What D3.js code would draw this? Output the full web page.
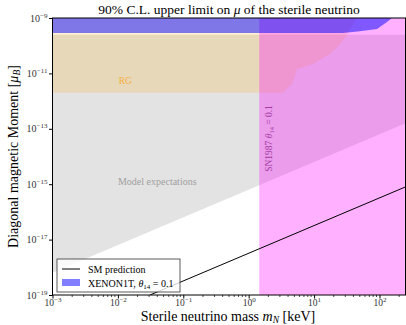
<!DOCTYPE html>
<html>
<head>
<meta charset="utf-8">
<script src="https://cdn.jsdelivr.net/npm/d3@7"></script>
<style>
  body { margin: 0; background: #fff; }
  text { font-family: "Liberation Serif", "DejaVu Serif", serif; }
</style>
</head>
<body>
<script>
// axis ticks
const massTicks = [1e-3, 1e-2, 1e-1, 1, 10, 100];
const momentTicks = [1e-9, 1e-11, 1e-13, 1e-15, 1e-17, 1e-19];

// regions, [mass keV, moment muB]
const modelLower = [[1e-3, 6.3e-19], [250, 1.58e-13]];
const modelTop = 2.5e-10;
const rgBoundary = [[1e-3, 2e-12], [3.3, 2e-12], [4.6, 4.2e-12], [5.5, 1.45e-11], [9.6, 2.2e-11],
                    [17.5, 5e-11], [25, 1.15e-10], [32, 2.6e-10], [38, 5.1e-10], [45, 1e-9]];
const xenonBoundary = [[1e-3, 2.9e-10], [27.6, 2.9e-10], [50, 3.3e-10], [92, 4e-10],
                       [130, 7.2e-10], [155, 1e-9]];
const snMass = [1.45, 250];
const smLine = [[0.031, 1e-19], [250, 8e-16]];

const W = 406, H = 325;
const margin = { top: 18, right: 0.5, bottom: 30, left: 52.5 };
const width = W - margin.left - margin.right;
const height = H - margin.top - margin.bottom;

const x = d3.scaleLog().domain([1e-3, 250]).range([0, width]);
const y = d3.scaleLog().domain([1e-19, 1e-9]).range([height, 0]);

const svg = d3.select("body").append("svg")
    .attr("width", W)
    .attr("height", H);

svg.append("defs").append("clipPath").attr("id", "clip")
    .append("rect").attr("width", width).attr("height", height);

const g = svg.append("g")
    .attr("transform", "translate(" + margin.left + "," + margin.top + ")");

const plot = g.append("g").attr("clip-path", "url(#clip)");

const line = d3.line().x(d => x(d[0])).y(d => y(d[1]));

// model expectations
const modelPoly = modelLower.concat([[250, modelTop], [1e-3, modelTop]]);
plot.append("path")
    .attr("d", line(modelPoly) + "Z")
    .attr("fill", "#808080")
    .attr("fill-opacity", 0.22);

// red giants
const rgPoly = rgBoundary.concat([[1e-3, 1e-9]]);
plot.append("path")
    .attr("d", line(rgPoly) + "Z")
    .attr("fill", "#ffa500")
    .attr("fill-opacity", 0.18);

// SN1987
plot.append("rect")
    .attr("x", x(snMass[0]))
    .attr("y", 0)
    .attr("width", x(snMass[1]) - x(snMass[0]))
    .attr("height", height)
    .attr("fill", "#ff00ff")
    .attr("fill-opacity", 0.31);

// XENON1T
const xePoly = xenonBoundary.concat([[1e-3, 1e-9]]);
plot.append("path")
    .attr("d", line(xePoly) + "Z")
    .attr("fill", "#0000ff")
    .attr("fill-opacity", 0.5);

// SM prediction
plot.append("path")
    .attr("d", line(smLine))
    .attr("fill", "none")
    .attr("stroke", "#000")
    .attr("stroke-width", 1);

// region labels
g.append("text")
    .attr("x", x(0.013)).attr("y", y(4e-12))
    .attr("text-anchor", "middle")
    .attr("font-size", 9.5)
    .attr("fill", "#f4b040")
    .text("RG");

g.append("text")
    .attr("x", x(0.04)).attr("y", y(9.3e-16))
    .attr("text-anchor", "middle")
    .attr("font-size", 10)
    .attr("fill", "#a0a0a0")
    .text("Model expectations");

const snText = g.append("text")
    .attr("transform", "translate(" + (x(snMass[0]) + 13) + "," + y(2.8e-15) + ") rotate(-90)")
    .attr("font-size", 9.5)
    .attr("fill", "#a53ca5");
snText.append("tspan").text("SN1987 ");
snText.append("tspan").attr("font-style", "italic").text("θ");
snText.append("tspan").attr("font-size", 6.5).attr("dy", 2).text("14");
snText.append("tspan").attr("dy", -2).text(" = 0.1");

// axes
function powLabel(sel, v) {
    const e = Math.round(Math.log10(v));
    sel.text("");
    sel.append("tspan").text("10");
    sel.append("tspan").attr("font-size", 7).attr("dy", -4).text(e < 0 ? "\u2212" + (-e) : e);
}

const xAxis = g.append("g")
    .attr("transform", "translate(0," + height + ")")
    .call(d3.axisBottom(x).tickValues(massTicks).tickSize(3.5).tickFormat(""));
xAxis.select(".domain").remove();
xAxis.selectAll("text").remove();
xAxis.selectAll(".tick").append("text")
    .attr("y", 10.5)
    .attr("text-anchor", "middle")
    .attr("font-size", 9.5)
    .attr("fill", "#333")
    .each(function (d) { powLabel(d3.select(this), d); });

const minor = [];
for (let dec = -3; dec <= 2; dec++) {
    for (let k = 2; k <= 9; k++) {
        const v = k * Math.pow(10, dec);
        if (v <= 250) minor.push(v);
    }
}
g.append("g")
    .attr("transform", "translate(0," + height + ")")
    .selectAll("line").data(minor).enter().append("line")
    .attr("x1", d => x(d)).attr("x2", d => x(d))
    .attr("y1", 0).attr("y2", 2)
    .attr("stroke", "#000").attr("stroke-width", 0.7);

const yAxis = g.append("g")
    .call(d3.axisLeft(y).tickValues(momentTicks).tickSize(3.5).tickFormat(""));
yAxis.select(".domain").remove();
yAxis.selectAll(".tick").append("text")
    .attr("x", -5)
    .attr("dy", 3)
    .attr("text-anchor", "end")
    .attr("font-size", 10)
    .attr("fill", "#333")
    .each(function (d) { powLabel(d3.select(this), d); });

g.append("rect")
    .attr("width", width).attr("height", height)
    .attr("fill", "none").attr("stroke", "#000").attr("stroke-width", 1);

// legend
const lg = g.append("g").attr("transform", "translate(4.5," + (height - 36) + ")");
lg.append("rect")
    .attr("width", 123).attr("height", 33)
    .attr("fill", "#fff").attr("fill-opacity", 0.8)
    .attr("stroke", "#333").attr("stroke-width", 0.8);
lg.append("line")
    .attr("x1", 5).attr("x2", 23).attr("y1", 10).attr("y2", 10)
    .attr("stroke", "#000").attr("stroke-width", 1);
lg.append("text")
    .attr("x", 31).attr("y", 13.5)
    .attr("font-size", 10)
    .text("SM prediction");
lg.append("rect")
    .attr("x", 5).attr("y", 20).attr("width", 18).attr("height", 7)
    .attr("fill", "#0000ff").attr("fill-opacity", 0.5);
const xeText = lg.append("text").attr("x", 31).attr("y", 27.5).attr("font-size", 10);
xeText.append("tspan").text("XENON1T, ");
xeText.append("tspan").attr("font-style", "italic").text("θ");
xeText.append("tspan").attr("font-size", 7).attr("dy", 2).text("14");
xeText.append("tspan").attr("dy", -2).text(" = 0.1");

// titles
const title = svg.append("text")
    .attr("x", margin.left + width / 2).attr("y", 14)
    .attr("text-anchor", "middle")
    .attr("font-size", 13.5);
title.append("tspan").text("90% C.L. upper limit on ");
title.append("tspan").attr("font-style", "italic").text("μ");
title.append("tspan").text(" of the sterile neutrino");

const xl = svg.append("text")
    .attr("x", margin.left + width / 2 - 1).attr("y", 321)
    .attr("text-anchor", "middle")
    .attr("font-size", 14);
xl.append("tspan").text("Sterile neutrino mass ");
xl.append("tspan").attr("font-style", "italic").text("m");
xl.append("tspan").attr("font-style", "italic").attr("font-size", 9.5).attr("dy", 2).text("N");
xl.append("tspan").attr("dy", -2).text(" [keV]");

const yl = svg.append("text")
    .attr("transform", "translate(18," + (margin.top + height / 2) + ") rotate(-90)")
    .attr("text-anchor", "middle")
    .attr("font-size", 14);
yl.append("tspan").text("Diagonal magnetic Moment [");
yl.append("tspan").attr("font-style", "italic").text("μ");
yl.append("tspan").attr("font-style", "italic").attr("font-size", 9.5).attr("dy", 2).text("B");
yl.append("tspan").attr("dy", -2).text("]");
</script>
</body>
</html>
